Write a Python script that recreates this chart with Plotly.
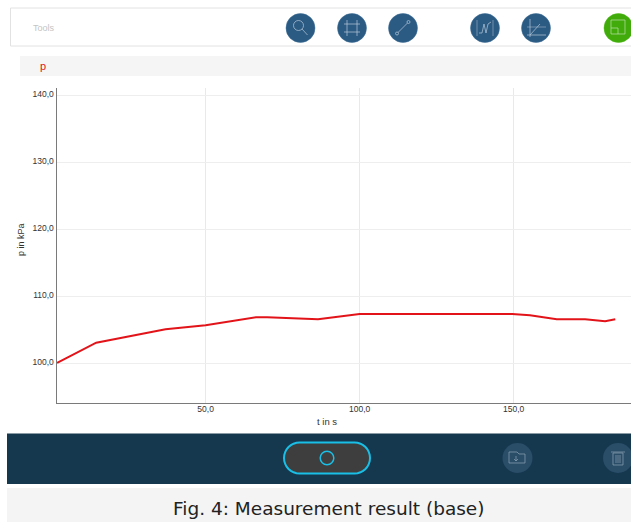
import math
import plotly.graph_objects as go

t_values = [1.8, 14.5, 37, 50, 66.4, 70, 86.5, 100, 149.5, 155.3, 164, 173.2, 179.7, 183]
p_values = [100.1, 103.1, 105.1, 105.7, 106.9, 106.9, 106.6, 107.4, 107.4, 107.2, 106.6, 106.6, 106.3, 106.6]
x_ticks = [50, 100, 150]
y_ticks = [100, 110, 120, 130, 140]
caption = "Fig. 4: Measurement result (base)"

W, H = 631, 522
px = lambda x: x / W
py = lambda y: 1 - y / H
shapes, notes = [], []

def rect(x0, y0, x1, y1, fill, line="rgba(0,0,0,0)", lw=0):
    shapes.append(dict(type="rect", xref="paper", yref="paper", x0=px(x0), x1=px(x1), y0=py(y0), y1=py(y1),
                       fillcolor=fill, line=dict(color=line, width=lw), layer="below"))

def circle(cx, cy, r, fill, line="rgba(0,0,0,0)", lw=0):
    shapes.append(dict(type="circle", xref="paper", yref="paper", x0=px(cx - r), x1=px(cx + r), y0=py(cy - r), y1=py(cy + r),
                       fillcolor=fill, line=dict(color=line, width=lw), layer="above"))

def seg(x0, y0, x1, y1, color="#b9cadb", lw=0.7):
    shapes.append(dict(type="line", xref="paper", yref="paper", x0=px(x0), x1=px(x1), y0=py(y0), y1=py(y1),
                       line=dict(color=color, width=lw), layer="above"))

def path(points, fill="rgba(0,0,0,0)", line="rgba(0,0,0,0)", lw=0, close=True):
    d = "M" + " L".join(f"{px(a):.5f},{py(b):.5f}" for a, b in points) + (" Z" if close else "")
    shapes.append(dict(type="path", xref="paper", yref="paper", path=d, fillcolor=fill,
                       line=dict(color=line, width=lw), layer="above"))

def note(x, y, text, size, color, family="Liberation Sans", angle=0, anchor="center"):
    notes.append(dict(x=px(x), y=py(y), xref="paper", yref="paper", text=text, showarrow=False, textangle=angle,
                      xanchor=anchor, yanchor="middle", font=dict(size=size, color=color, family=family)))

def pill(x0, x1, cy, r, fill, line, lw):
    pts = [(x1 - r + r * math.sin(a * math.pi / 16), cy - r * math.cos(a * math.pi / 16)) for a in range(17)]
    pts += [(x0 + r - r * math.sin(a * math.pi / 16), cy + r * math.cos(a * math.pi / 16)) for a in range(17)]
    path(pts, fill=fill, line=line, lw=lw)

# toolbar
rect(10.5, 8, 640, 46, "#ffffff", "#e2e2e2", 1)
note(31, 28, "Tools", 9, "#c4c4c4", anchor="left")
BLUE = "#2b5a82"
for cx in (300.5, 352, 403, 485, 536):
    circle(cx, 28, 14.5, BLUE, "#3b6d97", 0.5)
# magnifier
circle(298.5, 25.5, 5, "rgba(0,0,0,0)", "#b9cadb", 0.7)
seg(302, 29, 307.5, 35)
# crop grid
seg(347, 20, 347, 36); seg(357, 20, 357, 36); seg(344, 24, 360, 24); seg(344, 32, 360, 32)
# line tool
seg(397.5, 33, 408, 22.5)
circle(397, 33.5, 1.5, BLUE, "#b9cadb", 0.7); circle(408.5, 22, 1.5, BLUE, "#b9cadb", 0.7)
# peak tool
path([(479, 33), (482, 33), (484, 24), (486, 33), (488, 24), (491, 22)], line="#b9cadb", lw=0.7, close=False)
seg(477, 20, 477, 36, "#b9cadb", 0.5); seg(493, 20, 493, 36, "#b9cadb", 0.5)
# axes tool
seg(530, 19, 530, 37); seg(527, 35, 546, 35)
seg(530, 35, 540, 24); seg(527, 27, 546, 27, "#b9cadb", 0.5)
# green button
circle(618.5, 28, 14.5, "#40ab0b", "#48b812", 0.5)
path([(611, 34), (611, 20), (625, 20), (625, 34)], line="#bfe0ad", lw=0.7)
seg(611, 28, 618, 28, "#bfe0ad"); seg(618, 28, 618, 34, "#bfe0ad")

# series tab
rect(20, 56, 640, 76, "#f5f5f5")
note(43, 66.5, "p", 11, "#e0141a", anchor="center")

# bottom bar
rect(7, 433.5, 640, 484, "#16384f")
rect(7, 488, 640, 530, "#f4f4f4")
pill(284, 370, 458, 15.5, "#3e3e3e", "#19bfe6", 2)
circle(327, 458, 6.8, "rgba(0,0,0,0)", "#19bfe6", 1.5)
circle(517.5, 458, 15, "#2a4d68")
path([(509, 456), (509, 452), (517, 452), (519, 454), (525, 454), (525, 463), (509, 463)], line="#8ea5b6", lw=0.7)
seg(516, 456, 516, 461, "#8ea5b6"); seg(514, 459, 516, 461, "#8ea5b6"); seg(518, 459, 516, 461, "#8ea5b6")
circle(618, 458, 15, "#2a4d68")
path([(613, 453), (613, 465), (623, 465), (623, 453)], line="#8ea5b6", lw=0.7)
seg(611, 452, 625, 452, "#8ea5b6"); seg(616, 455, 616, 463, "#8ea5b6"); seg(618, 455, 618, 463, "#8ea5b6"); seg(620, 455, 620, 463, "#8ea5b6")
note(328, 508.5, caption, 18.5, "#222222", family="DejaVu Sans")

# axis titles
note(21, 240, "p in kPa", 9, "#333333", angle=-90)
note(327, 421.5, "t in s", 9.5, "#333333")

fig = go.Figure(go.Scatter(x=t_values, y=p_values, mode="lines", line=dict(color="#e2141a", width=2), hoverinfo="skip"))
axis_font = dict(size=8.5, color="#333333", family="Liberation Sans")
fig.update_layout(
    width=W, height=H, margin=dict(l=0, r=0, t=0, b=0, pad=0), autosize=False,
    paper_bgcolor="#ffffff", plot_bgcolor="#ffffff", showlegend=False, separators=",.",
    shapes=shapes, annotations=notes,
    xaxis=dict(domain=[px(56.5), 1], range=[1.6, 188.1], tickvals=x_ticks, tickformat=".1f", tickfont=axis_font,
               showgrid=True, gridcolor="#e9e9e9", gridwidth=1, zeroline=False, showline=True,
               linecolor="#7a7a7a", linewidth=1, ticks="", ticklen=0, ticklabelstandoff=-2),
    yaxis=dict(domain=[py(402.5), py(88)], range=[94.18, 141.1], tickvals=y_ticks, tickformat=".1f", tickfont=axis_font,
               showgrid=True, gridcolor="#eeeeee", gridwidth=1, zeroline=False, showline=True,
               linecolor="#7a7a7a", linewidth=1, ticks="", ticklen=0, ticklabelshift=-1),
)
fig.write_html("out.html", config=dict(displayModeBar=False), post_script="document.body.style.margin='0';")
